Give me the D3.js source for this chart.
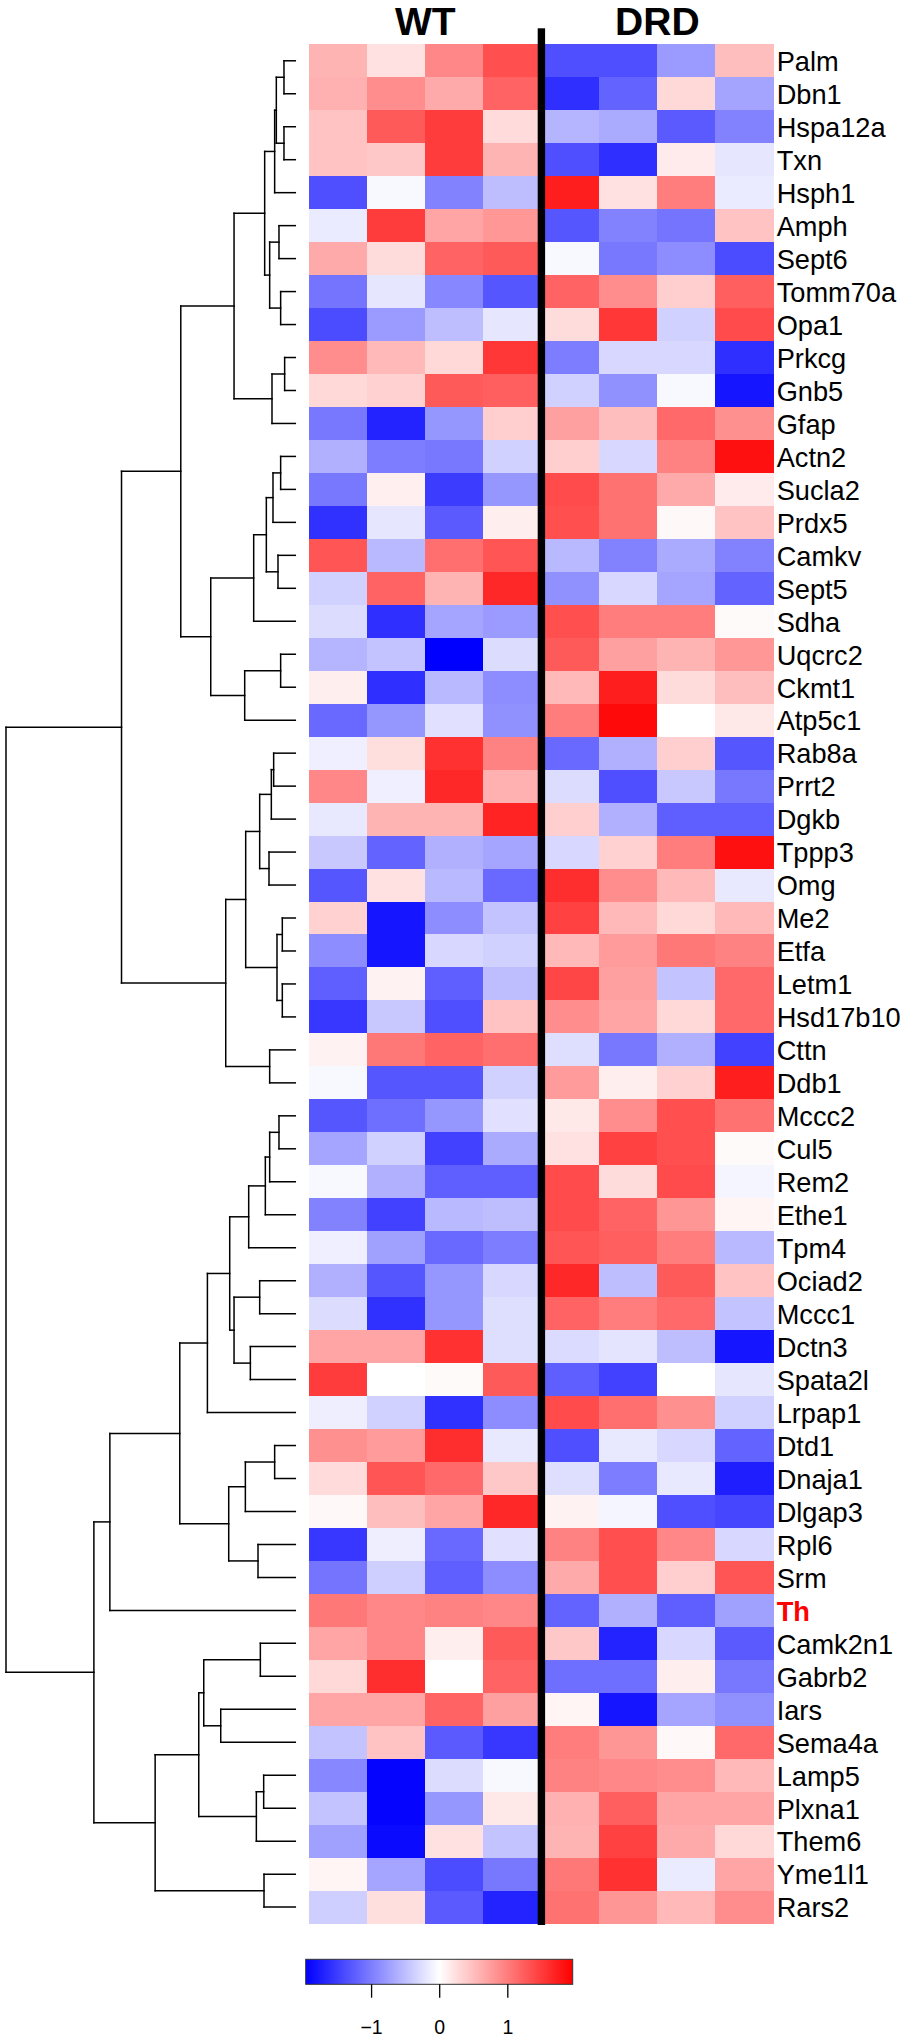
<!DOCTYPE html>
<html><head><meta charset="utf-8">
<script src="https://cdn.jsdelivr.net/npm/d3@7"></script>
<style>body{margin:0;background:#fff} svg{display:block} text{font-family:"Liberation Sans",Arial,sans-serif}</style>
</head><body><div id="chart"></div>
<script>
// ---------- data ----------
const genes = ["Palm","Dbn1","Hspa12a","Txn","Hsph1","Amph","Sept6","Tomm70a","Opa1","Prkcg","Gnb5","Gfap","Actn2","Sucla2","Prdx5","Camkv","Sept5","Sdha","Uqcrc2","Ckmt1","Atp5c1","Rab8a","Prrt2","Dgkb","Tppp3","Omg","Me2","Etfa","Letm1","Hsd17b10","Cttn","Ddb1","Mccc2","Cul5","Rem2","Ethe1","Tpm4","Ociad2","Mccc1","Dctn3","Spata2l","Lrpap1","Dtd1","Dnaja1","Dlgap3","Rpl6","Srm","Th","Camk2n1","Gabrb2","Iars","Sema4a","Lamp5","Plxna1","Them6","Yme1l1","Rars2"];
const groups = ["WT","DRD"];
const samples = ["WT1","WT2","WT3","WT4","DRD1","DRD2","DRD3","DRD4"];
const highlightGene = "Th";
const values = [
[0.58,0.23,0.92,1.35,-1.35,-1.35,-0.77,0.5],
[0.6,0.88,0.65,1.2,-1.6,-1.2,0.3,-0.7],
[0.46,1.27,1.5,0.28,-0.58,-0.65,-1.27,-0.96],
[0.46,0.42,1.5,0.58,-1.35,-1.6,0.15,-0.19],
[-1.35,-0.05,-0.96,-0.5,1.73,0.23,1.0,-0.15],
[-0.15,1.5,0.69,0.8,-1.3,-0.96,-1.07,0.46],
[0.65,0.27,1.2,1.27,-0.05,-1.04,-0.88,-1.38],
[-1.07,-0.19,-0.92,-1.3,1.2,0.88,0.38,1.23],
[-1.38,-0.77,-0.5,-0.19,0.27,1.54,-0.35,1.38],
[0.88,0.54,0.3,1.54,-1.0,-0.31,-0.31,-1.6],
[0.3,0.35,1.27,1.23,-0.35,-0.85,-0.05,-1.8],
[-1.04,-1.69,-0.81,0.38,0.73,0.5,1.15,0.85],
[-0.61,-1.0,-1.04,-0.35,0.38,-0.31,0.96,1.84],
[-1.04,0.12,-1.5,-0.81,1.38,1.08,0.65,0.15],
[-1.58,-0.19,-1.27,0.13,1.35,1.08,0.05,0.46],
[1.31,-0.54,1.11,1.31,-0.54,-0.96,-0.65,-0.96],
[-0.35,1.2,0.58,1.65,-0.85,-0.31,-0.69,-1.2],
[-0.27,-1.6,-0.69,-0.77,1.35,1.0,1.0,0.04],
[-0.58,-0.46,-1.96,-0.27,1.27,0.73,0.58,0.8],
[0.13,-1.6,-0.54,-0.88,0.54,1.73,0.27,0.5],
[-1.15,-0.81,-0.23,-0.85,1.0,1.88,0,0.18],
[-0.12,0.25,1.58,0.96,-1.15,-0.61,0.38,-1.3],
[0.92,-0.12,1.65,0.61,-0.27,-1.35,-0.42,-1.04],
[-0.18,0.58,0.58,1.69,0.38,-0.61,-1.23,-1.23],
[-0.42,-1.2,-0.61,-0.69,-0.31,0.35,1.0,1.84],
[-1.3,0.23,-0.54,-1.15,1.61,0.88,0.54,-0.18],
[0.35,-1.8,-0.88,-0.46,1.46,0.54,0.3,0.54],
[-0.88,-1.8,-0.31,-0.35,0.54,0.77,1.04,0.96],
[-1.23,0.1,-1.23,-0.5,1.42,0.73,-0.46,1.15],
[-1.54,-0.42,-1.35,0.46,0.88,0.69,0.3,1.15],
[0.1,1.04,1.2,1.11,-0.25,-1.04,-0.61,-1.46],
[-0.05,-1.3,-1.3,-0.35,0.77,0.13,0.35,1.73],
[-1.3,-1.11,-0.81,-0.23,0.18,0.88,1.35,1.08],
[-0.69,-0.35,-1.46,-0.65,0.23,1.46,1.35,0.04],
[-0.05,-0.61,-1.23,-1.23,1.38,0.27,1.38,-0.08],
[-0.96,-1.46,-0.54,-0.5,1.38,1.2,0.81,0.08],
[-0.12,-0.73,-1.15,-1.0,1.31,1.23,1.0,-0.54],
[-0.61,-1.3,-0.81,-0.31,1.65,-0.5,1.27,0.46],
[-0.27,-1.58,-0.81,-0.25,1.2,1.0,1.15,-0.46],
[0.69,0.69,1.58,-0.25,-0.28,-0.21,-0.5,-1.8],
[1.5,0,0.04,1.27,-1.23,-1.46,0,-0.19],
[-0.13,-0.35,-1.58,-0.88,1.38,1.11,0.85,-0.35],
[0.85,0.77,1.61,-0.18,-1.35,-0.18,-0.31,-1.2],
[0.28,1.31,1.15,0.42,-0.25,-1.0,-0.18,-1.73],
[0.05,0.5,0.69,1.65,0.1,-0.08,-1.35,-1.42],
[-1.54,-0.13,-1.15,-0.23,0.96,1.35,0.92,-0.31],
[-1.07,-0.38,-1.23,-0.88,0.65,1.35,0.38,1.31],
[1.04,0.92,0.96,0.92,-1.2,-0.61,-1.23,-0.73],
[0.69,0.92,0.13,1.27,0.42,-1.69,-0.31,-1.27],
[0.3,1.61,0,1.2,-1.11,-1.11,0.13,-1.04],
[0.69,0.69,1.2,0.73,0.08,-1.8,-0.69,-0.85],
[-0.46,0.46,-1.27,-1.54,1.0,0.81,0.05,1.15],
[-0.92,-1.92,-0.27,-0.05,0.96,0.92,0.88,0.54],
[-0.46,-1.92,-0.81,0.18,0.61,1.23,0.69,0.69],
[-0.73,-1.88,0.23,-0.46,0.58,1.46,0.65,0.3],
[0.08,-0.69,-1.38,-1.04,1.04,1.58,-0.15,0.69],
[-0.38,0.25,-1.27,-1.69,1.08,0.81,0.54,0.88]
];
// row dendrogram, hclust style: negative = leaf (1-based row), positive = earlier merge (1-based)
const merges = [
[-1,-2],[-3,-4],[1,2],[3,-5],[-6,-7],[-8,-9],[5,6],[4,7],[-10,-11],[9,-12],
[8,10],[-13,-14],[12,-15],[-16,-17],[13,14],[15,-18],[-19,-20],[17,-21],[16,18],[11,19],
[-22,-23],[21,-24],[-25,-26],[22,23],[-27,-28],[-29,-30],[25,26],[24,27],[-31,-32],[28,29],
[20,30],[-33,-34],[32,-35],[33,-36],[34,-37],[-38,-39],[-40,-41],[36,37],[35,38],[39,-42],
[-43,-44],[41,-45],[-46,-47],[42,43],[40,44],[45,-48],[-49,-50],[-51,-52],[47,48],[-53,-54],
[50,-55],[49,51],[-56,-57],[52,53],[46,54],[31,55]
];
const mergeHeights = [
0.34,0.34,0.57,0.62,0.49,0.44,0.77,0.92,0.32,0.70,
1.84,0.44,0.67,0.52,0.87,1.25,0.44,1.52,2.54,3.44,
0.65,0.72,0.79,1.07,0.39,0.39,0.55,1.49,0.77,2.09,
5.22,0.49,0.77,0.90,1.40,1.07,1.35,1.84,1.97,2.64,
0.62,1.50,1.12,2.00,3.47,5.57,1.05,2.24,2.75,0.95,
1.17,2.90,0.94,4.21,6.05,8.69
];
const legendTicks = [-1, 0, 1];
const colorDomain = [-1.96, 0, 1.96];
const colorRange = ["#0000ff", "#ffffff", "#ff0000"];

// ---------- layout ----------
const W = 910, H = 2040;
const svg = d3.select("#chart").append("svg").attr("width", W).attr("height", H);

const x = d3.scaleBand().domain(samples).range([309.3, 773.3]);
const y = d3.scaleBand().domain(genes).range([44.3, 1923.6]);
const color = d3.scaleLinear().domain(colorDomain).range(colorRange).clamp(true);

// heatmap cells
const cells = [];
values.forEach((row, i) => row.forEach((v, j) => cells.push({g: genes[i], s: samples[j], v})));
svg.append("g").attr("shape-rendering", "crispEdges")
  .selectAll("rect").data(cells).join("rect")
  .attr("x", d => x(d.s)).attr("y", d => y(d.g))
  .attr("width", x.bandwidth() + 0.4).attr("height", y.bandwidth() + 0.4)
  .attr("fill", d => color(d.v));

// separator line between groups
const sepX = x(samples[4]);
svg.append("rect").attr("x", sepX - 3.6).attr("y", 28.3)
  .attr("width", 7.4).attr("height", 1925 - 28.3).attr("fill", "#000");

// group titles
const groupCenter = [ (x(samples[0]) + x(samples[3]) + x.bandwidth()) / 2,
                      (x(samples[4]) + x(samples[7]) + x.bandwidth()) / 2 ];
svg.selectAll("text.grp").data(groups).join("text").attr("class", "grp")
  .attr("x", (d, i) => groupCenter[i]).attr("y", 35)
  .attr("text-anchor", "middle").attr("font-size", 39).attr("font-weight", "bold")
  .text(d => d);

// row labels
svg.selectAll("text.lab").data(genes).join("text").attr("class", "lab")
  .attr("x", 776.7).attr("y", d => y(d) + y.bandwidth() / 2 + 10.3)
  .attr("font-size", 27.2)
  .attr("fill", d => d === highlightGene ? "#ff0000" : "#000")
  .attr("font-weight", d => d === highlightGene ? "bold" : "normal")
  .text(d => d);

// dendrogram
const hx = d3.scaleLinear().domain([0, d3.max(mergeHeights)]).range([295.3, 6]);
const nodeY = [], nodeX = [];
function pos(ref) {
  if (ref < 0) { const g = genes[-ref - 1]; return [hx(0), y(g) + y.bandwidth() / 2]; }
  return [nodeX[ref - 1], nodeY[ref - 1]];
}
const segs = [];
merges.forEach((m, k) => {
  const [ax, ay] = pos(m[0]), [bx, by] = pos(m[1]);
  const nx = hx(mergeHeights[k]);
  nodeX[k] = nx; nodeY[k] = (ay + by) / 2;
  segs.push([ax, ay, nx, ay], [bx, by, nx, by], [nx, ay, nx, by]);
});
svg.append("g").selectAll("line").data(segs).join("line")
  .attr("x1", d => d[0]).attr("y1", d => d[1]).attr("x2", d => d[2]).attr("y2", d => d[3])
  .attr("stroke", "#000").attr("stroke-width", 1.5).attr("stroke-linecap", "square");

// colour key
const lx = d3.scaleLinear().domain([colorDomain[0], colorDomain[2]]).range([305.7, 572.7]);
const defs = svg.append("defs");
const grad = defs.append("linearGradient").attr("id", "keygrad");
d3.range(0, 1.0001, 0.05).forEach(t => {
  grad.append("stop").attr("offset", t)
    .attr("stop-color", color(colorDomain[0] + t * (colorDomain[2] - colorDomain[0])));
});
svg.append("rect").attr("x", lx.range()[0]).attr("y", 1959.3)
  .attr("width", lx.range()[1] - lx.range()[0]).attr("height", 25)
  .attr("fill", "url(#keygrad)").attr("stroke", "#333").attr("stroke-width", 1);
const axis = svg.append("g").attr("transform", "translate(0,1984.3)")
  .call(d3.axisBottom(lx).tickValues(legendTicks).tickFormat(d3.format("d"))
    .tickSize(13.4).tickPadding(22).tickSizeOuter(0));
axis.select(".domain").remove();
axis.selectAll(".tick line").attr("stroke", "#000").attr("stroke-width", 1.3);
axis.selectAll(".tick text").attr("font-size", 19.5).attr("fill", "#000")
  .attr("font-family", "'Liberation Sans',Arial,sans-serif");
</script></body></html>
